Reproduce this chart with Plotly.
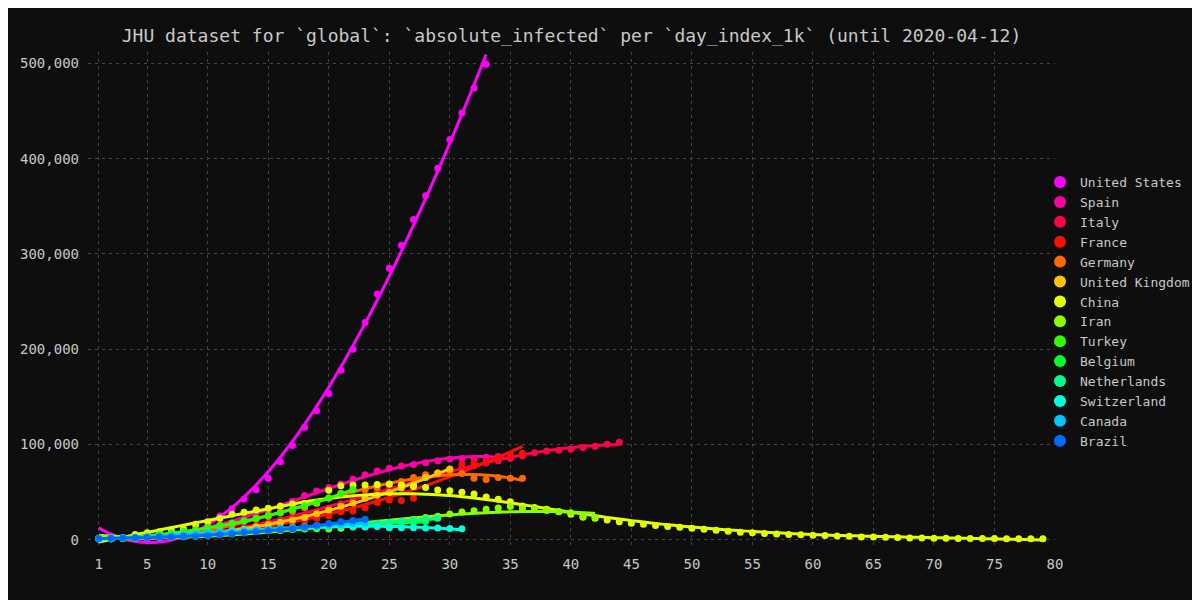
import numpy as np
import plotly.graph_objects as go

countries = ["United States", "Spain", "Italy", "France", "Germany", "United Kingdom",
             "China", "Iran", "Turkey", "Belgium", "Netherlands", "Switzerland", "Canada", "Brazil"]

colors = ["#ff00ff", "#ff00a6", "#ff004b", "#ff0f00", "#ff6900", "#ffc300", "#e2ff00",
          "#88ff00", "#2eff00", "#00ff2c", "#00ff86", "#00ffe0", "#00c4ff", "#006aff"]

united_states = [1240, 1610, 2110, 2650, 3390, 4480, 6230, 7560, 13350, 18720, 25000, 32600,
                 42900, 52600, 64500, 82000, 99000, 118000, 135500, 153500, 178000, 200000,
                 228000, 258000, 285000, 309000, 336000, 361000, 390000, 420000, 448000,
                 474000, 499000]
spain = [1010, 1630, 2040, 2040, 4900, 5680, 6990, 9070, 10190, 12210, 16030, 17780, 21870,
         24420, 29470, 33280, 40500, 46410, 51220, 54970, 58600, 63460, 68200, 72080, 74970,
         77490, 79000, 80930, 82900, 84690, 85410, 85610, 86520, 87310, 87230]
italy = [1050, 1580, 1840, 2260, 2710, 3300, 3920, 4640, 6390, 7990, 8510, 10590, 12840,
         14960, 17750, 20600, 23070, 26060, 28710, 33190, 37860, 42680, 46640, 50420, 54030,
         57520, 62010, 66410, 70070, 73880, 75530, 77640, 80570, 83050, 85390, 88270, 91250,
         93190, 94070, 95260, 96880, 98270, 100270, 102250]
france = [1095, 1180, 1740, 2220, 2220, 3580, 4380, 4410, 6490, 7530, 8850, 10560, 12260,
          13860, 13300, 16800, 17900, 20000, 22500, 25300, 29500, 30300, 33600, 39100, 41900,
          41200, 43700, 66800, 68600, 71700, 79200, 80600, 82100, 86500, 89200, 90700]
germany = [1020, 1160, 1440, 1880, 2050, 3620, 4530, 5740, 7210, 9160, 12250, 15190, 19600,
           21920, 24520, 28670, 29590, 33570, 38000, 43870, 48780, 52350, 52740, 54930, 58250,
           61240, 65310, 68250, 69840, 72860, 69560, 64650, 63170, 65490, 64640, 64530]
united_kingdom = [1100, 1100, 1490, 1880, 2550, 2600, 3850, 4850, 5440, 6330, 7670, 9060,
                  11060, 13810, 16170, 18400, 20700, 23350, 27400, 31230, 35280, 38520, 43510,
                  46840, 49700, 54240, 57790, 65290, 69990, 74200]
china = [1000, 1500, 2500, 5600, 7500, 8500, 9500, 11300, 16200, 19000, 22500, 26700, 28800,
         31300, 33000, 35500, 37600, 38300, 39000, 52000, 56800, 57500, 57500, 58000, 58500,
         57500, 56000, 55000, 52300, 51500, 50000, 48000, 45000, 42500, 40000, 35500, 34000,
         32000, 29500, 26700, 24200, 22500, 20800, 19000, 17300, 16300, 15000, 14000, 13300,
         12200, 11200, 10000, 9000, 8000, 7300, 6600, 6000, 5600, 5300, 4900, 4500, 4100,
         3800, 3000, 3000, 2600, 2300, 2000, 2000, 1600, 1600, 1300, 1300, 1300, 1300, 1000,
         1000, 1000, 1000]
iran = [1140, 1970, 2280, 2670, 3710, 4010, 4240, 4530, 5020, 5690, 6690, 7890, 7530, 8620,
        9550, 9790, 10840, 11410, 11470, 11420, 12020, 13310, 13960, 15320, 16720, 18820,
        21210, 23280, 24830, 27050, 29080, 30600, 31950, 33290, 34890, 32530, 31680, 30780,
        29800, 28500, 23730, 23320]
turkey = [1210, 1490, 1800, 2350, 3530, 5560, 7220, 8980, 10500, 13070, 15070, 17360, 20010,
          22650, 25450, 28240, 31800, 35570, 39230, 43880, 48640, 52790]
belgium = [1050, 1230, 1440, 1740, 2220, 2750, 3060, 3320, 3740, 4210, 5340, 6140, 7720,
           9050, 9860, 10370, 11000, 11840, 12380, 13400, 14260, 15030, 15480, 16000, 16890,
           17660, 17970, 19180]
netherlands = [1110, 1390, 1660, 1990, 2380, 2890, 3490, 4020, 4530, 5280, 6050, 6990, 8100,
               9170, 10160, 10950, 11620, 12510, 13440, 14330, 15350, 16180, 16800, 17340,
               18160, 19220, 20440, 21630, 22710]
switzerland = [1120, 1340, 2180, 2180, 2670, 3000, 4030, 5220, 6490, 7370, 8540, 9620, 10610,
               10090, 11160, 12250, 12930, 13740, 14350, 14300, 14220, 14090, 13380, 13920,
               12780, 12650, 12530, 12430, 12420, 11960, 11610]
canada = [1250, 1430, 2030, 2720, 3160, 3940, 4560, 5430, 6110, 6900, 7800, 8200, 9250,
          10160, 10460, 12260, 12710, 13590, 14280, 15250, 16100, 17060, 17570]
brazil = [1110, 1520, 1890, 2200, 2490, 2900, 3320, 3790, 4110, 4300, 5390, 6470, 7590, 8570,
          9790, 10520, 11470, 13220, 15220, 17000, 18900, 20300, 21500]

series = [united_states, spain, italy, france, germany, united_kingdom, china, iran, turkey,
          belgium, netherlands, switzerland, canada, brazil]

# trend method per series: ("poly", degree) or ("lowess", frac)
trend = [("poly", 3)] * 6 + [("lowess", 0.45)] + [("poly", 3)] * 7

x_ticks = [1, 5, 10, 15, 20, 25, 30, 35, 40, 45, 50, 55, 60, 65, 70, 75, 80]
y_ticks = [0, 100000, 200000, 300000, 400000, 500000]

FONT = "DejaVu Sans Mono"
TXT = "#c8c8c8"


def lowess(x, y, frac):
    """Local linear smoother with tricube weights (non-robust LOWESS)."""
    x = np.asarray(x, dtype=float)
    y = np.asarray(y, dtype=float)
    n = len(x)
    k = max(3, int(frac * n + 1e-10))
    fit = np.zeros(n)
    left, right = 0, k
    for i in range(n):
        while right < n and x[i] - x[left] > x[right] - x[i]:
            left += 1
            right += 1
        radius = max(x[i] - x[left], x[right - 1] - x[i])
        xs, ys = x[left:right], y[left:right]
        d = np.abs(xs - x[i]) / radius
        w = np.where(d < 1, (1 - d ** 3) ** 3, 0.0)
        sw = w.sum()
        xm = (w * xs).sum() / sw
        ym = (w * ys).sum() / sw
        var = (w * (xs - xm) ** 2).sum()
        b = (w * (xs - xm) * (ys - ym)).sum() / var if var > 0 else 0.0
        fit[i] = ym + b * (x[i] - xm)
    return x, fit


def trend_line(days, vals, spec):
    kind, p = spec
    if kind == "poly":
        coef = np.polyfit(days, np.asarray(vals, dtype=float), p)
        xs = np.linspace(days[0], days[-1], 300)
        return xs, np.polyval(coef, xs)
    return lowess(days, vals, p)


fig = go.Figure()
for name, col, vals, spec in zip(countries, colors, series, trend):
    days = np.arange(1, len(vals) + 1)
    fig.add_trace(go.Scatter(x=days, y=vals, mode="markers", name=name,
                             marker=dict(color=col, size=7), legendgroup=name))
    tx, ty = trend_line(days, vals, spec)
    fig.add_trace(go.Scatter(x=tx, y=ty, mode="lines", name=name,
                             line=dict(color=col, width=3, shape="spline", smoothing=0.6),
                             showlegend=False, legendgroup=name, hoverinfo="skip"))

W, H = 1192, 592
fig.update_layout(
    width=W, height=H,
    paper_bgcolor="#0e0e0e", plot_bgcolor="#0e0e0e",
    font=dict(family=FONT, size=14, color=TXT),
    margin=dict(l=80, r=145, t=44, b=52, autoexpand=False),
    title=dict(text="JHU dataset for `global`: `absolute_infected` per `day_index_1k` (until 2020-04-12)",
               x=0.5, xref="paper", xanchor="center", y=1 - 28 / H, yref="container",
               yanchor="middle", font=dict(family=FONT, size=18, color=TXT)),
    legend=dict(x=0.9845, xanchor="left", y=0.768, yanchor="top", bgcolor="rgba(0,0,0,0)",
                font=dict(family=FONT, size=13, color=TXT), itemsizing="constant",
                tracegroupgap=0),
    showlegend=True,
)
fig.update_xaxes(range=[0.107, 80], tickvals=x_ticks, showgrid=True, gridcolor="#444444",
                 griddash="3px,4px", gridwidth=1, zeroline=False, showline=False, ticks="",
                 ticklabelstandoff=6)
fig.update_yaxes(range=[-8600, 511900], tickvals=y_ticks, tickformat=",", showgrid=True,
                 gridcolor="#444444", griddash="3px,4px", gridwidth=1, zeroline=False,
                 showline=False, ticks="", ticklabelstandoff=8)

fig.write_html("out.html")
